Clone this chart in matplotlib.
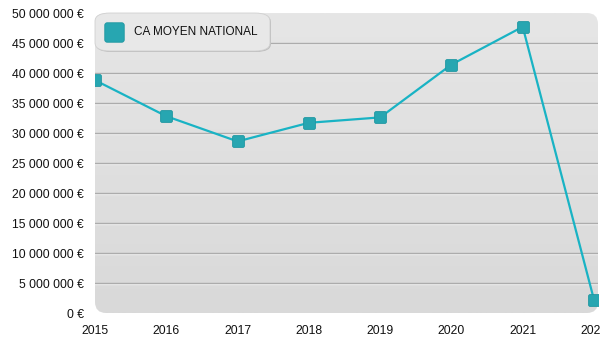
import numpy as np
import matplotlib.pyplot as plt
import matplotlib.transforms as mtrans
from matplotlib.patches import FancyBboxPatch
from matplotlib.path import Path
from matplotlib.ticker import FuncFormatter

plt.rcParams['font.family'] = ['Liberation Sans', 'DejaVu Sans']

annees = [2015, 2016, 2017, 2018, 2019, 2020, 2021, 2022]
ca_moyen = [38.8e6, 32.8e6, 28.6e6, 31.7e6, 32.6e6, 41.4e6, 47.7e6, 2.2e6]
serie = 'CA MOYEN NATIONAL'

ligne = '#19b3c4'
carre = '#27a6b1'

# carre aux coins arrondis pour les marqueurs
r = 0.25
verts = [(-1 + r, -1), (1 - r, -1), (1, -1), (1, -1 + r), (1, 1 - r), (1, 1),
         (1 - r, 1), (-1 + r, 1), (-1, 1), (-1, 1 - r), (-1, -1 + r), (-1, -1),
         (-1 + r, -1)]
codes = [Path.MOVETO, Path.LINETO, Path.CURVE3, Path.CURVE3, Path.LINETO,
         Path.CURVE3, Path.CURVE3, Path.LINETO, Path.CURVE3, Path.CURVE3,
         Path.LINETO, Path.CURVE3, Path.CURVE3]
rond = Path(verts, codes)

fig = plt.figure(figsize=(6, 3.5), dpi=100)
ax = fig.add_axes([95 / 600, 1 - 313 / 350, 503 / 600, 300 / 350])
ax.set_xlim(2015, 2022 + 4 / 71.3)
ax.set_ylim(0, 50e6)
for s in ax.spines.values():
    s.set_visible(False)
ax.patch.set_alpha(0)

# fond gris en degrade avec coins arrondis
fond = FancyBboxPatch((0, 0), 1, 1, boxstyle='round,pad=0,rounding_size=0.022',
                      transform=ax.transAxes, facecolor='none', edgecolor='none',
                      mutation_aspect=503 / 300, zorder=0)
ax.add_patch(fond)
grad = np.linspace(0, 1, 256).reshape(-1, 1)
img = ax.imshow(grad, cmap=plt.matplotlib.colors.LinearSegmentedColormap.from_list(
    'g', ['#d9d9d9', '#e6e6e6']), origin='lower', aspect='auto',
    extent=[0, 1, 0, 1], transform=ax.transAxes, zorder=0)
img.set_clip_path(fond)

# lignes de grille grises avec un filet clair dessous
decal = mtrans.ScaledTranslation(0, -1 / 100, fig.dpi_scale_trans)
for y in np.arange(5e6, 50e6, 5e6):
    ax.plot([0, 1], [y, y], transform=ax.get_yaxis_transform() + decal,
            color='#f2f2f2', lw=1, zorder=1)
    ax.plot([0, 1], [y, y], transform=ax.get_yaxis_transform(),
            color='#acacac', lw=1, zorder=1)
ax.set_ylim(0, 50e6)

ax.plot(annees, ca_moyen, color=ligne, lw=1.6, zorder=3)
ax.plot(annees, ca_moyen, ls='none', marker=rond, ms=8.5, mfc=carre,
        mec='#1f97a1', mew=0.6, zorder=4)

ax.set_xticks(annees)
ax.set_yticks(np.arange(0, 50e6 + 1, 5e6))
ax.yaxis.set_major_formatter(FuncFormatter(
    lambda v, p: f'{int(v):,} €'.replace(',', ' ')))
ax.tick_params(length=0, labelsize=8.8, colors='#111111')
ax.tick_params(axis='y', pad=8)
ax.tick_params(axis='x', pad=9)
for t in ax.get_xticklabels():
    t.set_clip_on(False)

# legende
fx, fy = 1 / 600, 1 / 350
ombre = FancyBboxPatch((96 * fx, 1 - 52 * fy), 175 * fx, 38 * fy,
                       boxstyle='round,pad=0,rounding_size=0.025',
                       transform=fig.transFigure, facecolor='#bdbdbd',
                       edgecolor='none', mutation_aspect=600 / 350 * 0.55,
                       zorder=5)
boite = FancyBboxPatch((95 * fx, 1 - 51 * fy), 175 * fx, 38 * fy,
                       boxstyle='round,pad=0,rounding_size=0.025',
                       transform=fig.transFigure, facecolor='#e8e8e8',
                       edgecolor='#d0d0d0', lw=0.6,
                       mutation_aspect=600 / 350 * 0.55, zorder=6)
fig.patches.extend([ombre, boite])
fig.add_artist(plt.Line2D([114 * fx], [1 - 32 * fy], marker=rond, ms=14,
                          mfc=carre, mec='#1f97a1', mew=0.6,
                          transform=fig.transFigure, zorder=7))
fig.text(134 * fx, 1 - 32 * fy, serie, fontsize=8.5, va='center',
         color='#111111', zorder=7)

fig.savefig('out.png', dpi=100)
